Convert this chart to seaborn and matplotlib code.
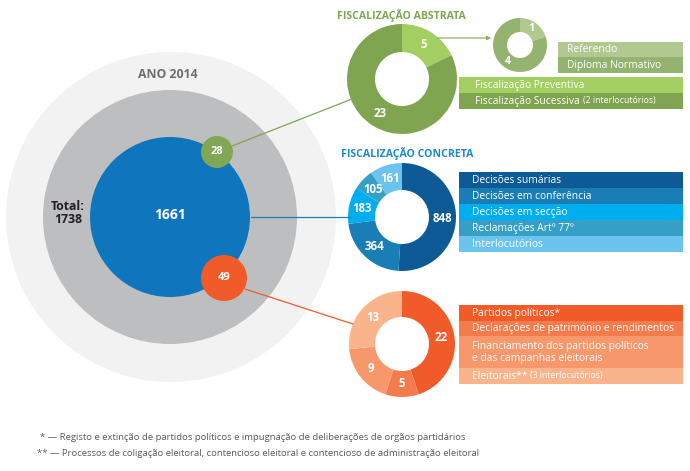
import matplotlib.pyplot as plt
import seaborn as sns
from matplotlib.patches import Circle, Rectangle

# Data (Tribunal Constitucional, ano 2014)
ano_label = "ANO 2014"
total_processos = 1738
concreta_total = 1661
abstrata_total = 28
outros_total = 49

abstrata_labels = ["Fiscalização Preventiva", "Fiscalização Sucessiva"]
abstrata_values = [5, 23]
preventiva_labels = ["Referendo", "Diploma Normativo"]
preventiva_values = [1, 4]
concreta_labels = ["Decisões sumárias", "Decisões em conferência", "Decisões em secção",
                   "Reclamações Artº 77º", "Interlocutórios"]
concreta_values = [848, 364, 183, 105, 161]
outros_labels = ["Partidos políticos*", "Declarações de património e rendimentos",
                 "Financiamento dos partidos políticos\ne das campanhas eleitorais", "Eleitorais**"]
outros_values = [22, 5, 9, 13]

footnotes = [
    "* \u2014 Registo e extinção de partidos políticos e impugnação de deliberações de orgãos partidários",
    "** \u2014 Processos de coligação eleitoral, contencioso eleitoral e contencioso de administração eleitoral",
]

# Colours
green_cols = ["#a3cf62", "#80a551"]
green_small_cols = ["#b1c891", "#94b36f"]
blue_cols = ["#0d5a97", "#1a7eb6", "#00adef", "#369fc6", "#6bc4ee"]
orange_cols = ["#f15a29", "#f47b4b", "#f6986c", "#fab48c"]

sns.set_theme(style="white")
plt.rcParams['font.family'] = ['Open Sans', 'DejaVu Sans']

W, H = 690, 471
fig = plt.figure(figsize=(W / 100, H / 100), dpi=100)
ax = fig.add_axes([0, 0, 1, 1])


def Y(y):
    return H - y


def donut(values, cx, cy, r_out, r_in, colors, fs=8.3):
    total = sum(values)
    ax.pie(values, colors=colors, center=(cx, Y(cy)), radius=r_out, startangle=90,
           counterclock=False, wedgeprops=dict(width=r_out - r_in, linewidth=0),
           autopct=lambda p: f"{round(p * total / 100)}",
           pctdistance=(r_out + r_in) / 2 / r_out,
           textprops=dict(color="white", fontweight="bold", fontsize=fs))


def legend_rows(labels, colors, x0, x1, edges, tx, fs=7.4, suffixes=None):
    for i, (lab, col) in enumerate(zip(labels, colors)):
        top, bot = edges[i], edges[i + 1]
        ax.add_patch(Rectangle((x0, Y(bot)), x1 - x0, bot - top, facecolor=col,
                               edgecolor="none", zorder=2))
        t = ax.text(tx, Y((top + bot) / 2 + 0.5), lab, color="white", fontsize=fs,
                    va="center", ha="left", zorder=3, linespacing=1.0)
        if suffixes and suffixes[i]:
            ax.annotate(suffixes[i], xy=(1, 0), xycoords=t, xytext=(2, 1.3),
                        textcoords="offset points", color="white", fontsize=6.3,
                        va="bottom", ha="left", zorder=3)


# Big circles
ax.add_patch(Circle((171, Y(217)), 165, color="#f2f2f2", lw=0))
ax.add_patch(Circle((170, Y(217)), 127, color="#bdbec0", lw=0))
ax.add_patch(Circle((170, Y(217)), 80, color="#0f75bc", lw=0))

# Connector lines
ax.plot([232, 352], [Y(146), Y(99)], color="#80a551", lw=0.9)
ax.plot([251, 350], [Y(217), Y(217)], color="#1a7eb6", lw=0.9)
ax.plot([245, 353], [Y(289), Y(324)], color="#f15a29", lw=0.9)
ax.annotate("", xy=(494, Y(38)), xytext=(434, Y(38)),
            arrowprops=dict(arrowstyle="-|>", color="#8cb15e", lw=0.9, mutation_scale=6))

ax.add_patch(Circle((217, Y(152)), 16, color="#82a654", lw=0, zorder=3))
ax.add_patch(Circle((224, Y(278)), 23, color="#f15a29", lw=0, zorder=3))

ax.text(170, Y(215), f"{concreta_total}", color="white", fontweight="bold", fontsize=10,
        ha="center", va="center")
ax.text(217, Y(152), f"{abstrata_total}", color="white", fontweight="bold", fontsize=8,
        ha="center", va="center", zorder=4)
ax.text(224, Y(278), f"{outros_total}", color="white", fontweight="bold", fontsize=8,
        ha="center", va="center", zorder=4)
ax.text(68, Y(213), f"Total:\n{total_processos}", color="#231f20", fontweight="bold",
        fontsize=8.8, ha="center", va="center", linespacing=1.05)
ax.text(168, Y(75), ano_label, color="#6d6e71", fontweight="bold", fontsize=8.8,
        ha="center", va="center")

# Donuts
donut(abstrata_values, 402, 79, 55, 27, green_cols)
donut(preventiva_values, 520, 45, 27, 13, green_small_cols, fs=7.8)
donut(concreta_values, 402, 217, 54, 27, blue_cols)
donut(outros_values, 402, 344, 53, 27, orange_cols)

# Titles
ax.text(337, Y(15), "FISCALIZAÇÃO ABSTRATA", color="#80a551", fontweight="bold",
        fontsize=7.6, ha="left", va="center")
ax.text(341, Y(153), "FISCALIZAÇÃO CONCRETA", color="#1a8ac6", fontweight="bold",
        fontsize=7.6, ha="left", va="center")

# Legends
legend_rows(preventiva_labels, green_small_cols, 558, 683, [42, 57, 73], 567)
legend_rows(abstrata_labels, green_cols, 459, 683, [77, 93, 109], 475,
            suffixes=[None, "(2 interlocutórios)"])
legend_rows(concreta_labels, blue_cols, 459, 683, [172, 188, 204, 220, 236, 252], 472)
legend_rows(outros_labels, orange_cols, 459, 683, [305, 321, 336, 368, 384], 472,
            suffixes=[None, None, None, "(3 interlocutórios)"])

# Footnotes
ax.text(40, Y(437), footnotes[0], color="#58595b", fontsize=6.8, ha="left", va="center")
ax.text(37, Y(454), footnotes[1], color="#58595b", fontsize=6.8, ha="left", va="center")

ax.set_xlim(0, W)
ax.set_ylim(0, H)
ax.set_aspect("equal")
ax.axis("off")

fig.savefig("out.png", dpi=100, facecolor="white")
